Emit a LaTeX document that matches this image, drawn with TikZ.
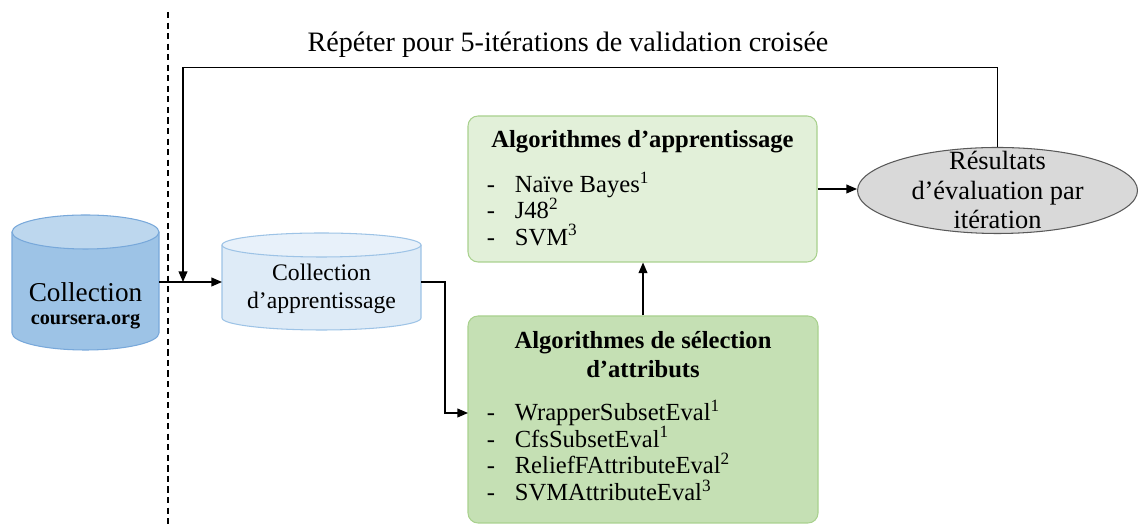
\documentclass[tikz,border=0pt]{standalone}
\usepackage{fontspec}
\setmainfont{Liberation Serif}
\usetikzlibrary{arrows.meta,positioning,shapes.geometric}

\definecolor{srcbody}{RGB}{157,195,230}
\definecolor{srctop}{RGB}{189,215,238}
\definecolor{srcline}{RGB}{120,168,218}
\definecolor{trainbody}{RGB}{222,235,247}
\definecolor{traintop}{RGB}{232,241,250}
\definecolor{trainline}{RGB}{157,195,230}
\definecolor{learnfill}{RGB}{226,240,217}
\definecolor{selfill}{RGB}{197,224,180}
\definecolor{boxline}{RGB}{169,209,142}
\definecolor{resfill}{RGB}{217,217,217}
\definecolor{resline}{RGB}{89,89,89}

\newcommand{\itm}[1]{\makebox[0.56cm][l]{-}#1}

\begin{document}
\begin{tikzpicture}
  \tikzset{
    arr/.style={-{Triangle[length=6pt,width=5pt]},line width=0.7pt},
    link/.style={line width=0.7pt},
    cylspot/.style={inner sep=0pt,outer sep=0pt},
    algbox/.style={draw=boxline,rounded corners=0.2cm,line width=0.6pt,inner sep=0pt},
    head/.style={font=\fontsize{14}{16.5}\selectfont\bfseries,align=center,inner sep=0pt},
    list/.style={font=\fontsize{14}{15}\selectfont,align=left,anchor=north west,inner sep=0pt}
  }
  \useasboundingbox (0,0) rectangle (22.76,10.52);

  % Loop label
  \node[font=\fontsize{16}{18}\selectfont] (looptext) at (11.36,9.62) {Répéter pour 5-itérations de validation croisée};

  % Split line
  \draw[link,dash pattern=on 3.5pt off 2.5pt] (3.36,10.28) -- (3.36,0);

  % Source collection (cylinder)
  \node[cylspot,minimum width=2.94cm,minimum height=2.70cm] (src) at (1.71,4.87) {};
  \fill[srcbody] (0.24,5.88) -- (0.24,3.86) arc[start angle=180,end angle=360,x radius=1.47cm,y radius=0.34cm] -- (3.18,5.88) -- cycle;
  \draw[srcline,line width=0.6pt] (0.24,5.88) -- (0.24,3.86) arc[start angle=180,end angle=360,x radius=1.47cm,y radius=0.34cm] -- (3.18,5.88);
  \filldraw[fill=srctop,draw=srcline,line width=0.6pt] (1.71,5.88) ellipse[x radius=1.47cm,y radius=0.34cm];
  \node[align=center] (srctext) at (1.71,4.40)
    {\fontsize{15.5}{16}\selectfont Collection\\[1pt]\fontsize{11.5}{13}\selectfont\bfseries coursera.org};

  % Training collection (cylinder)
  \node[cylspot,minimum width=3.98cm,minimum height=1.94cm] (train) at (6.43,4.89) {};
  \fill[trainbody] (4.44,5.62) -- (4.44,4.16) arc[start angle=180,end angle=360,x radius=1.99cm,y radius=0.24cm] -- (8.42,5.62) -- cycle;
  \draw[trainline,line width=0.6pt] (4.44,5.62) -- (4.44,4.16) arc[start angle=180,end angle=360,x radius=1.99cm,y radius=0.24cm] -- (8.42,5.62);
  \filldraw[fill=traintop,draw=trainline,line width=0.6pt] (6.43,5.62) ellipse[x radius=1.99cm,y radius=0.24cm];
  \node[align=center,font=\fontsize{13.5}{16}\selectfont] (traintext) at (6.43,4.74) {Collection\\d’apprentissage};

  % Learning algorithms
  \node[algbox,fill=learnfill,minimum width=6.98cm,minimum height=2.92cm] (learn) at (12.85,6.74) {};
  \node[head] (learnhead) at ([yshift=-0.52cm]learn.north) {Algorithmes d’apprentissage};
  \node[list] (learnlist) at ([xshift=0.38cm,yshift=-1.12cm]learn.north west)
    {\itm{Naïve Bayes\textsuperscript{1}}\\ \itm{J48\textsuperscript{2}}\\ \itm{SVM\textsuperscript{3}}};

  % Attribute selection algorithms
  \node[algbox,fill=selfill,minimum width=7.0cm,minimum height=4.14cm] (sel) at (12.86,2.13) {};
  \node[head] (selhead) at ([yshift=-0.79cm]sel.north) {Algorithmes de sélection\\d’attributs};
  \node[list,font=\fontsize{14}{15.2}\selectfont] (sellist) at ([xshift=0.38cm,yshift=-1.68cm]sel.north west)
    {\itm{WrapperSubsetEval\textsuperscript{1}}\\ \itm{CfsSubsetEval\textsuperscript{1}}\\
     \itm{ReliefFAttributeEval\textsuperscript{2}}\\ \itm{SVMAttributeEval\textsuperscript{3}}};

  % Results per iteration
  \node[ellipse,draw=resline,fill=resfill,line width=0.6pt,minimum width=5.6cm,minimum height=1.72cm,inner sep=0pt] (res) at (19.95,6.71) {};
  \node[align=center,font=\fontsize{15}{17}\selectfont] (restext) at (19.95,6.72) {Résultats\\d’évaluation par\\itération};

  % Connectors
  \coordinate (join) at (3.66,4.88);
  \coordinate (selin) at (9.36,2.26);
  \draw[arr] (src.east |- join) -- (train.west |- join);
  \draw[arr] (train.east |- join) -- ++(0.48,0) |- (selin);
  \draw[arr] (sel.north) -- (sel.north |- learn.south);
  \draw[arr] (learn.east) -- (learn.east -| res.west);
  \draw[arr] (res.north) -- ++(0,1.59) -| (join);
\end{tikzpicture}
\end{document}
